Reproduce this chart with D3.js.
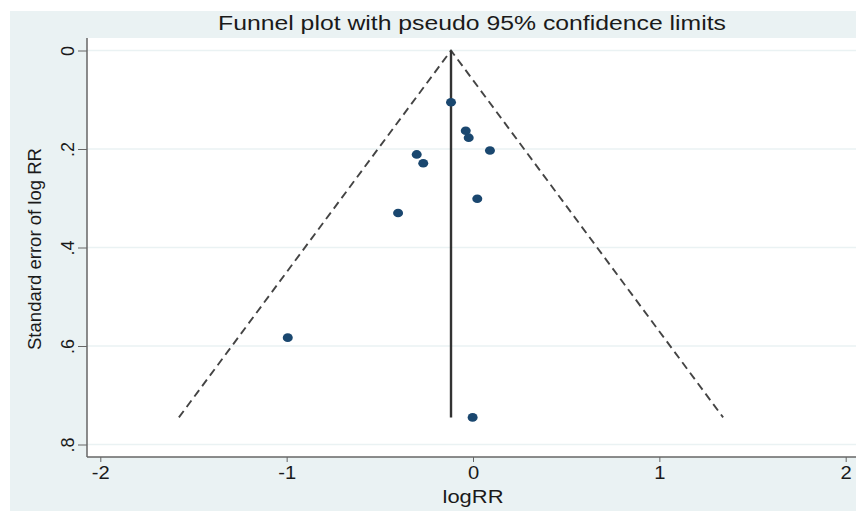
<!DOCTYPE html>
<html>
<head>
<meta charset="utf-8">
<script src="https://d3js.org/d3.v7.min.js"></script>
<style>
  body { margin: 0; background: #fff; }
  text { font-family: "Liberation Sans", Arial, sans-serif; fill: #1a1a1a; }
</style>
</head>
<body>
<svg class="chart"></svg>
<script>
// study estimates
var logRR  = [-0.118, -0.039, -0.023, 0.091, -0.302, -0.267, 0.023, -0.402, -0.994, -0.002];
var seLogRR = [0.105, 0.163, 0.177, 0.203, 0.211, 0.229, 0.301, 0.330, 0.583, 0.745];
var pooled = -0.118;   // fixed-effect estimate (vertical line)
var xTicks = [-2, -1, 0, 1, 2];
var yTicks = [0, 0.2, 0.4, 0.6, 0.8];

var svgWidth = 856, svgHeight = 511;
var plot = {left: 87, top: 38, right: 856, bottom: 457};

var svg = d3.select(".chart").attr("width", svgWidth).attr("height", svgHeight);

// outer graph region
svg.append("rect").attr("x", 10).attr("y", 11).attr("width", svgWidth - 10).attr("height", svgHeight - 11)
    .attr("fill", "#eaf2f3");
svg.append("rect").attr("x", plot.left).attr("y", plot.top)
    .attr("width", plot.right - plot.left).attr("height", plot.bottom - plot.top)
    .attr("fill", "#fff");

var xScale = d3.scaleLinear().domain([-2, 2]).range([100.3, 845.7]);
var yScale = d3.scaleLinear().domain([0, 0.8]).range([50.5, 444.5]);

// gridlines
svg.append("g").selectAll("line").data(yTicks).enter().append("line")
    .attr("x1", plot.left).attr("x2", plot.right)
    .attr("y1", yScale).attr("y2", yScale)
    .attr("stroke", "#eaf2f3").attr("stroke-width", 1.5);

// axes
var xAxis = d3.axisBottom(xScale).tickValues(xTicks)
    .tickFormat(function(d) { return String(d); }).tickSize(5).tickPadding(4);
var gx = svg.append("g").attr("transform", "translate(0," + plot.bottom + ")").call(xAxis);
gx.select(".domain").attr("d", "M" + plot.left + ",0H" + plot.right).attr("stroke", "#666").attr("stroke-width", 1.5);
gx.selectAll(".tick line").attr("stroke", "#666");
gx.selectAll(".tick text").attr("font-size", 18).attr("fill", "#1a1a1a")
    .attr("font-family", "Liberation Sans, Arial, sans-serif")
    .attr("transform", "scale(1.12,1)");

var yAxis = d3.axisLeft(yScale).tickValues(yTicks)
    .tickFormat(function(d) { return d === 0 ? "0" : d3.format(".1f")(d).replace(/^0/, ""); })
    .tickSize(9).tickPadding(0);
var gy = svg.append("g").attr("transform", "translate(" + plot.left + ",0)").call(yAxis);
gy.select(".domain").attr("d", "M0," + plot.top + "V" + plot.bottom).attr("stroke", "#666").attr("stroke-width", 1.5);
gy.selectAll(".tick line").attr("stroke", "#666");
gy.selectAll(".tick text")
    .attr("x", 0).attr("dy", 0)
    .attr("text-anchor", "middle")
    .attr("transform", "translate(-13,0) rotate(-90)")
    .attr("font-size", 18).attr("fill", "#1a1a1a")
    .attr("font-family", "Liberation Sans, Arial, sans-serif");

// pseudo 95% confidence limits
var seMax = d3.max(seLogRR);
var funnel = [[pooled - 1.96 * seMax, seMax], [pooled, 0], [pooled + 1.96 * seMax, seMax]];
svg.append("path")
    .attr("d", d3.line().x(function(d) { return xScale(d[0]); }).y(function(d) { return yScale(d[1]); })(funnel))
    .attr("fill", "none").attr("stroke", "#444").attr("stroke-width", 1.9)
    .attr("stroke-dasharray", "8,5");

svg.append("line")
    .attr("x1", xScale(pooled)).attr("x2", xScale(pooled))
    .attr("y1", yScale(0)).attr("y2", yScale(seMax))
    .attr("stroke", "#333").attr("stroke-width", 2.4);

// studies
svg.append("g").selectAll("ellipse").data(logRR).enter().append("ellipse")
    .attr("cx", function(d) { return xScale(d); })
    .attr("cy", function(d, i) { return yScale(seLogRR[i]); })
    .attr("rx", 5).attr("ry", 4.3)
    .attr("fill", "#1a476f");

// titles
svg.append("text").attr("x", 472).attr("y", 30).attr("text-anchor", "middle")
    .attr("font-size", 20).attr("textLength", 508).attr("lengthAdjust", "spacingAndGlyphs")
    .text("Funnel plot with pseudo 95% confidence limits");
svg.append("text").attr("x", 473).attr("y", 503).attr("text-anchor", "middle")
    .attr("font-size", 18).attr("textLength", 61).attr("lengthAdjust", "spacingAndGlyphs")
    .text("logRR");
svg.append("text").attr("transform", "translate(41,249) rotate(-90)").attr("text-anchor", "middle")
    .attr("font-size", 18).attr("textLength", 202).attr("lengthAdjust", "spacingAndGlyphs")
    .text("Standard error of log RR");
</script>
</body>
</html>
